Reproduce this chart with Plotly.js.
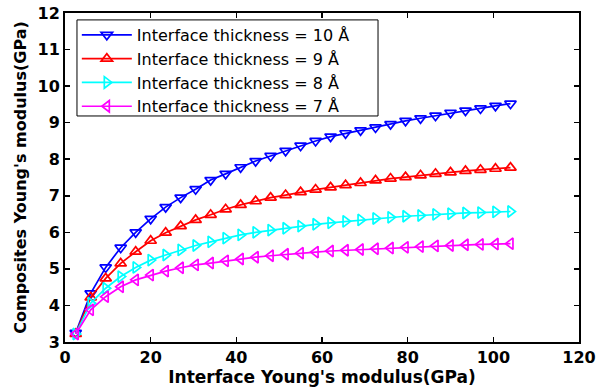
<!DOCTYPE html>
<html>
<head>
<meta charset="utf-8">
<script src="https://cdn.plot.ly/plotly-3.0.1.min.js"></script>
<style>html,body{margin:0;padding:0;background:#fff;}#chart{width:606px;height:387px;}</style>
</head>
<body>
<div id="chart"></div>
<script>
var xValues = [2.5, 6, 9.5, 13, 16.5, 20, 23.5, 27, 30.5, 34, 37.5, 41, 44.5, 48, 51.5, 55, 58.5, 62, 65.5, 69, 72.5, 76, 79.5, 83, 86.5, 90, 93.5, 97, 100.5, 104];
var t10 = [3.25, 4.33, 5.04, 5.58, 6.00, 6.37, 6.69, 6.95, 7.18, 7.43, 7.60, 7.78, 7.95, 8.09, 8.23, 8.37, 8.50, 8.62, 8.71, 8.79, 8.87, 8.96, 9.05, 9.12, 9.19, 9.27, 9.33, 9.39, 9.46, 9.52];
var t9 = [3.22, 4.22, 4.74, 5.15, 5.47, 5.77, 5.99, 6.17, 6.34, 6.48, 6.63, 6.75, 6.85, 6.95, 7.02, 7.10, 7.17, 7.23, 7.29, 7.35, 7.42, 7.47, 7.51, 7.56, 7.60, 7.64, 7.68, 7.71, 7.74, 7.77];
var t8 = [3.22, 4.06, 4.47, 4.79, 5.04, 5.24, 5.38, 5.52, 5.64, 5.74, 5.84, 5.93, 6.00, 6.06, 6.11, 6.17, 6.22, 6.26, 6.30, 6.34, 6.38, 6.41, 6.44, 6.46, 6.49, 6.51, 6.53, 6.54, 6.56, 6.57];
var t7 = [3.22, 3.88, 4.24, 4.51, 4.70, 4.83, 4.94, 5.03, 5.11, 5.16, 5.22, 5.27, 5.32, 5.36, 5.40, 5.43, 5.46, 5.49, 5.51, 5.53, 5.55, 5.57, 5.59, 5.61, 5.63, 5.64, 5.66, 5.67, 5.68, 5.69];
var seriesNames = ["Interface thickness = 10 Å", "Interface thickness = 9 Å", "Interface thickness = 8 Å", "Interface thickness = 7 Å"];
var xTicks = [0, 20, 40, 60, 80, 100, 120];
var yTicks = [3, 4, 5, 6, 7, 8, 9, 10, 11, 12];

var colors = ["#0000ff", "#ff0000", "#00ffff", "#ff00ff"];
var symbols = ["triangle-down-open", "triangle-up-open", "triangle-right-open", "triangle-left-open"];
var ys = [t10, t9, t8, t7];
var FONT = "DejaVu Sans, Verdana, sans-serif";

var traces = ys.map(function (y, i) {
  return {
    x: xValues, y: y, name: seriesNames[i], type: "scatter", mode: "lines+markers",
    line: {color: colors[i], width: 1.7},
    marker: {symbol: symbols[i], size: 10, color: colors[i], line: {width: 1.7, color: colors[i]}}
  };
});

var layout = {
  width: 606, height: 387,
  margin: {l: 65, r: 27, t: 13, b: 45},
  paper_bgcolor: "#fff", plot_bgcolor: "#fff",
  font: {family: FONT, color: "#000"},
  showlegend: true,
  legend: {
    x: 0.023, y: 0.985, xanchor: "left", yanchor: "top",
    bgcolor: "rgba(0,0,0,0)", borderwidth: 0,
    font: {family: FONT, size: 16, color: "#000"},
    itemwidth: 50,
    tracegroupgap: 0
  },
  shapes: [{
    type: "rect", xref: "paper", yref: "paper",
    x0: 0.0233, x1: 0.609, y0: 0.687, y1: 0.979,
    line: {color: "#000", width: 1}, fillcolor: "#fff", layer: "below"
  }],
  xaxis: {
    range: [0, 120], tickvals: xTicks, ticktext: xTicks.map(String),
    ticks: "inside", ticklen: 5, tickwidth: 1.5, tickcolor: "#000",
    showline: true, linecolor: "#000", linewidth: 2, mirror: "ticks",
    showgrid: false, zeroline: false,
    tickfont: {family: FONT, size: 16, color: "#000", weight: "bold"},
    title: {text: "<b>Interface Young's modulus(GPa)</b>", standoff: 3, font: {family: FONT, size: 17, color: "#000"}}
  },
  yaxis: {
    range: [3, 12], tickvals: yTicks, ticktext: yTicks.map(String),
    ticks: "inside", ticklen: 5, tickwidth: 1.5, tickcolor: "#000",
    showline: true, linecolor: "#000", linewidth: 2, mirror: "ticks",
    showgrid: false, zeroline: false,
    tickfont: {family: FONT, size: 16, color: "#000", weight: "bold"},
    title: {text: "<b>Composites Young's modulus(GPa)</b>", standoff: 7, font: {family: FONT, size: 16, color: "#000"}}
  }
};

Plotly.newPlot("chart", traces, layout, {displayModeBar: false, staticPlot: true});
</script>
</body>
</html>
